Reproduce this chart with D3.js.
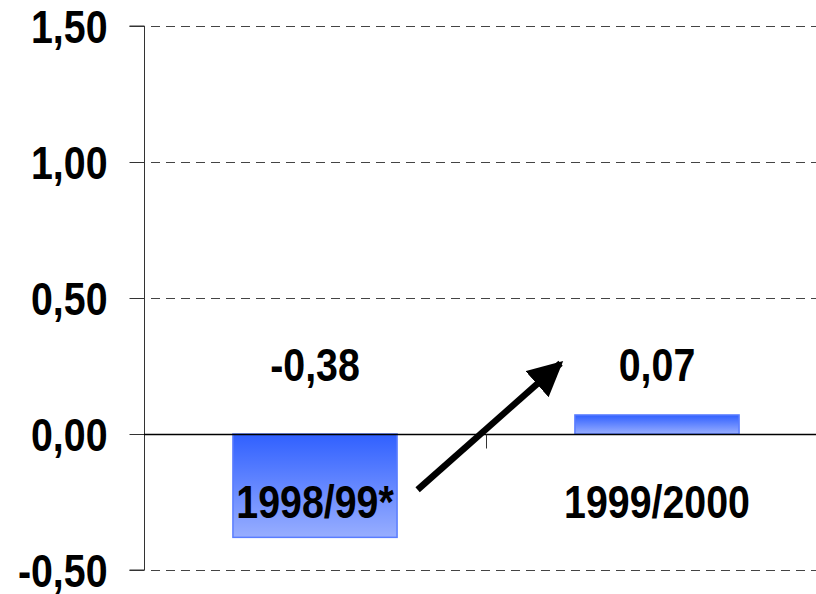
<!DOCTYPE html>
<html>
<head>
<meta charset="utf-8">
<script src="https://cdn.jsdelivr.net/npm/d3@7"></script>
<style>
  html, body { margin: 0; padding: 0; background: #fff; }
  svg { display: block; }
  text { font-family: "Liberation Sans", Arial, Helvetica, sans-serif; font-weight: bold; fill: #000; }
</style>
</head>
<body>
<svg id="chart" width="816" height="594"></svg>
<script>
// ---- data ----
const categories = ["1998/99*", "1999/2000"];
const values = [-0.38, 0.07];
const valueLabels = ["-0,38", "0,07"];
const yTicks = [-0.5, 0, 0.5, 1.0, 1.5];
const yTickLabels = ["-0,50", "0,00", "0,50", "1,00", "1,50"];
const arrowFrom = { cat: 0, offset: 0.3, value: -0.205 };
const arrowTo = { cat: 1, offset: -0.282, value: 0.26 };

// ---- layout ----
const W = 816, H = 594;
const axisX = 144;
const plotRight = 828;
const yTop = 26, yBottom = 570;
const fontSize = 46;
const squeeze = 0.855;

const svg = d3.select("#chart");

const y = d3.scaleLinear().domain([-0.5, 1.5]).range([yBottom, yTop]);
const x = d3.scaleBand().domain(categories).range([axisX, plotRight]).padding(0);
const barW = x.bandwidth() * 0.48;

// gradient
const defs = svg.append("defs");
const grad = defs.append("linearGradient").attr("id", "barGrad")
  .attr("x1", 0).attr("y1", 0).attr("x2", 0).attr("y2", 1);
grad.append("stop").attr("offset", "0%").attr("stop-color", "#3060ff");
grad.append("stop").attr("offset", "100%").attr("stop-color", "#98aeff");

defs.append("marker").attr("id", "arrowHead")
  .attr("viewBox", "0 0 10 10").attr("refX", 9).attr("refY", 5)
  .attr("markerUnits", "userSpaceOnUse")
  .attr("markerWidth", 35).attr("markerHeight", 35)
  .attr("orient", "auto")
  .append("path").attr("d", "M0,0 L10,5 L0,10 Z").attr("fill", "#000");

// partially visible title glyph at the top edge
svg.append("text").attr("x", 592).attr("y", -13)
  .attr("text-anchor", "middle").attr("font-size", fontSize)
  .attr("transform", `translate(${592 * (1 - squeeze)},0) scale(${squeeze},1)`)
  .text("g");

// gridlines (dashed)
svg.append("g").selectAll("line")
  .data(yTicks.filter(d => d !== 0))
  .join("line")
  .attr("x1", axisX + 7).attr("x2", W)
  .attr("y1", d => Math.round(y(d)) + 0.5).attr("y2", d => Math.round(y(d)) + 0.5)
  .attr("stroke", "#444").attr("stroke-width", 1)
  .attr("stroke-dasharray", "9,6");

// bars
svg.append("g").selectAll("rect")
  .data(values)
  .join("rect")
  .attr("x", (d, i) => x(categories[i]) + x.bandwidth() / 2 - barW / 2)
  .attr("width", barW)
  .attr("y", d => y(Math.max(0, d)))
  .attr("height", d => Math.abs(y(d) - y(0)))
  .attr("fill", "url(#barGrad)")
  .attr("stroke", "#5a7dff").attr("stroke-width", 1.5);

// y axis
const yAxis = d3.axisLeft(y).tickValues(yTicks)
  .tickFormat((d, i) => yTickLabels[i]).tickSize(15).tickPadding(22);
const gy = svg.append("g").attr("transform", `translate(${axisX + 0.5},0)`).call(yAxis);
gy.select(".domain").attr("stroke", "#333").attr("d", `M-15,${y(1.5)}H0V${y(-0.5)}H-15`);
gy.selectAll(".tick line").attr("stroke", "#333");
gy.selectAll(".tick text")
  .attr("font-size", fontSize).attr("font-family", null).attr("dy", "0.36em")
  .attr("x", -37 / squeeze)
  .attr("transform", `scale(${squeeze},1)`);

// x axis (zero line) with category separator tick
const xAxis = d3.axisBottom(x).tickSize(0).tickFormat("");
const gx = svg.append("g").attr("transform", `translate(0,${Math.round(y(0)) + 0.5})`).call(xAxis);
gx.select(".domain").attr("stroke", "#000").attr("stroke-width", 1.5).attr("d", `M${axisX},0H${W}`);
gx.selectAll(".tick").remove();
gx.append("line")
  .attr("x1", x(categories[1]) + 0.5).attr("x2", x(categories[1]) + 0.5)
  .attr("y1", 0).attr("y2", 14).attr("stroke", "#333");

// value labels
svg.append("g").selectAll("text")
  .data(valueLabels)
  .join("text")
  .attr("text-anchor", "middle").attr("font-size", fontSize)
  .attr("transform", (d, i) => `translate(${x(categories[i]) + x.bandwidth() / 2},${y(0) - 53}) scale(${squeeze},1)`)
  .text(d => d);

// category labels
svg.append("g").selectAll("text")
  .data(categories)
  .join("text")
  .attr("text-anchor", "middle").attr("font-size", fontSize)
  .attr("transform", d => `translate(${x(d) + x.bandwidth() / 2},${y(0) + 84}) scale(${squeeze},1)`)
  .text(d => d);

// arrow annotation
const ax = p => x(categories[p.cat]) + x.bandwidth() / 2 + p.offset * x.bandwidth();
svg.append("line")
  .attr("x1", ax(arrowFrom)).attr("y1", y(arrowFrom.value))
  .attr("x2", ax(arrowTo)).attr("y2", y(arrowTo.value))
  .attr("stroke", "#000").attr("stroke-width", 6.5)
  .attr("marker-end", "url(#arrowHead)");
</script>
</body>
</html>
